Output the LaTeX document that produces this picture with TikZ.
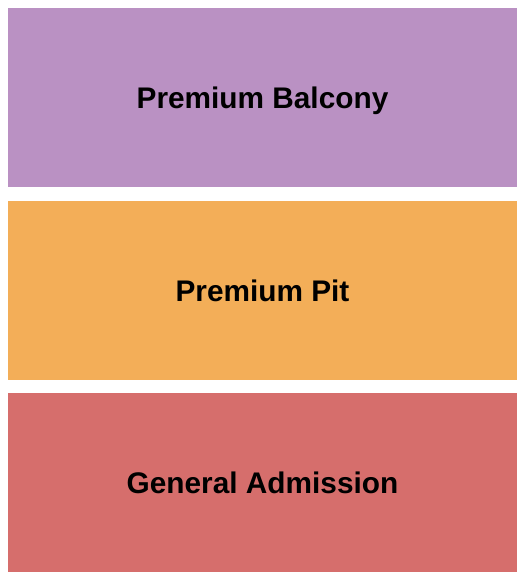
\documentclass[tikz,border=0pt]{standalone}
\usepackage{fontspec}
\setmainfont{Liberation Sans}
\usepackage{tikz}

\definecolor{balcony}{RGB}{186,145,195}
\definecolor{pit}{RGB}{243,174,88}
\definecolor{general}{RGB}{214,110,108}

\begin{document}
\begin{tikzpicture}[x=1pt, y=1pt, every node/.style={minimum width=509pt, minimum height=179pt, inner sep=0pt, outer sep=0pt, text height=21.3pt, text depth=0pt, font=\fontsize{29.8}{34}\selectfont\bfseries}]
\useasboundingbox (0,0) rectangle (525,580);
\node[fill=balcony] (balcony) at (262.5,482.5) {Premium Balcony};
\node[fill=pit] (pit) at (262.5,289.5) {Premium Pit};
\node[fill=general] (general) at (262.5,97.5) {General Admission};
\end{tikzpicture}
\end{document}
